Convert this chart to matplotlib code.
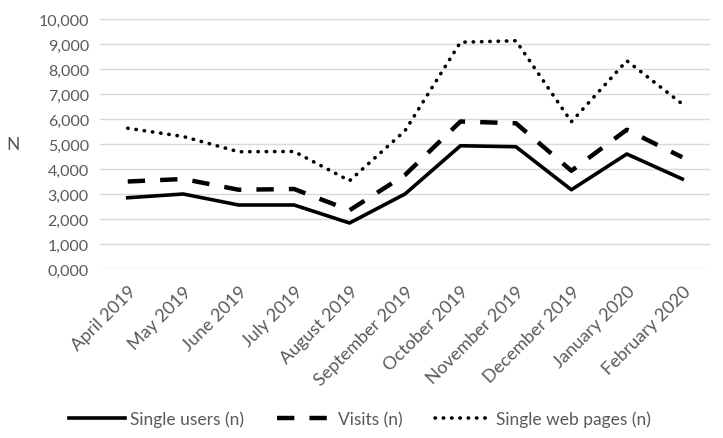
import matplotlib
matplotlib.use("Agg")
import matplotlib.pyplot as plt
from matplotlib.ticker import FuncFormatter

months = ["April 2019", "May 2019", "June 2019", "July 2019", "August 2019",
          "September 2019", "October 2019", "November 2019", "December 2019",
          "January 2020", "February 2020"]
single_users = [2850, 3000, 2560, 2560, 1840, 3000, 4930, 4890, 3170, 4600, 3600]
visits = [3500, 3600, 3170, 3200, 2350, 3760, 5900, 5830, 3930, 5570, 4470]
web_pages = [5630, 5300, 4690, 4700, 3530, 5530, 9070, 9130, 5890, 8330, 6600]

plt.rcParams['font.family'] = ['Lato', 'DejaVu Sans']
grey = '#595959'

fig = plt.figure(figsize=(7.23, 4.39), dpi=100)
ax = fig.add_axes([100/723, 1-270/439, 610/723, 250/439])
x = list(range(len(months)))
ax.plot(x, single_users, color='black', lw=2.6, ls='-', label='Single users (n)')
ax.plot(x, visits, color='black', lw=3.2, ls=(0, (3.9, 3.4)), label='Visits (n)')
ax.plot(x, web_pages, color='black', lw=2.6, ls=(0, (0.1, 2.2)), dash_capstyle='round',
        label='Single web pages (n)')

ax.set_xlim(-0.5, len(months)-0.5)
ax.set_ylim(0, 10000)
ax.set_yticks(range(0, 10001, 1000))
ax.yaxis.set_major_formatter(FuncFormatter(lambda v, p: "0,000" if v == 0 else f"{int(v):,}"))
ax.set_xticks(x)
ax.set_xticklabels(months, rotation=45, ha='right', rotation_mode='anchor')
ax.grid(axis='y', color='#d9d9d9', lw=1)
ax.set_axisbelow(True)
for s in ax.spines.values():
    s.set_visible(False)
ax.tick_params(axis='y', length=0, labelsize=11.5, colors=grey, pad=8)
ax.tick_params(axis='x', length=0, labelsize=13, colors=grey, pad=10)
ax.set_ylabel('N', rotation=0, fontsize=12.5, color=grey, va='center', ha='center')
ax.yaxis.set_label_coords(-0.143, 0.5)

leg = fig.legend(loc='center', bbox_to_anchor=(0.498, 1-420/439), ncol=3, frameon=False,
                 fontsize=12.5, handlelength=3.2, columnspacing=1.9, handletextpad=0.3)
for t in leg.get_texts():
    t.set_color(grey)

fig.savefig('out.png', dpi=100)
